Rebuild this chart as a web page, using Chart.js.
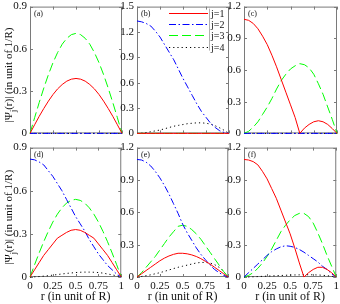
<!DOCTYPE html>
<html>
<head>
<meta charset="utf-8">
<script src="https://cdn.jsdelivr.net/npm/chart.js@4.4.1/dist/chart.umd.min.js"></script>
<style>
  html, body { margin: 0; padding: 0; background: #fff; }
  #wrap { position: relative; width: 340px; height: 304px; overflow: hidden; }
  #wrap canvas { position: absolute; }
</style>
</head>
<body>
<div id="wrap"></div>
<script>
// radial grid r (in unit of R)
const r = [0, 0.05, 0.1, 0.15, 0.2, 0.25, 0.3, 0.35, 0.4, 0.45, 0.5, 0.55, 0.6, 0.65, 0.7, 0.75, 0.8, 0.85, 0.9, 0.95, 1];
const xTicks = [0, 0.25, 0.5, 0.75, 1];
const yTicks09 = [0, 0.3, 0.6, 0.9];
const yTicks12 = [0, 0.3, 0.6, 0.9, 1.2];
const yTicks15 = [0, 0.3, 0.6, 0.9, 1.2, 1.5];
const seriesNames = ['j=1', 'j=2', 'j=3', 'j=4'];
const panelNames = ['(a)', '(b)', '(c)', '(d)', '(e)', '(f)'];

// (a)
const a1 = [0, .061, .121, .177, .229, .276, .316, .347, .371, .385, .39, .385, .371, .347, .316, .276, .229, .177, .121, .061, 0];
const a2 = [0, 0, 0, 0, 0, 0, 0, 0, 0, 0, 0, 0, 0, 0, 0, 0, 0, 0, 0, 0, 0];
const a3 = [0, .111, .219, .322, .417, .502, .574, .633, .675, .701, .71, .701, .675, .633, .574, .502, .417, .322, .219, .111, 0];
const a4 = [0, 0, 0, 0, 0, 0, 0, 0, 0, 0, 0, 0, 0, 0, 0, 0, 0, 0, 0, 0, 0];
// (b)
const b1 = [0, 0, 0, 0, 0, 0, 0, 0, 0, 0, 0, 0, 0, 0, 0, 0, 0, 0, 0, 0, 0];
const b2 = [1.33, 1.32, 1.30, 1.27, 1.21, 1.14, 1.05, .96, .87, .76, .65, .55, .45, .35, .26, .19, .12, .07, .03, .01, 0];
const b3 = [0, 0, 0, 0, 0, 0, 0, 0, 0, 0, 0, 0, 0, 0, 0, 0, 0, 0, 0, 0, 0];
const b4 = [0, .003, .01, .02, .03, .04, .055, .07, .085, .095, .105, .115, .12, .125, .125, .12, .11, .09, .065, .035, 0];
// (c)
const c1 = [1.08, 1.07, 1.04, .99, .92, .84, .74, .63, .51, .39, .27, .15, 0, .05, .085, .11, .12, .11, .085, .045, 0];
const c2 = [0, 0, 0, 0, 0, 0, 0, 0, 0, 0, 0, 0, 0, 0, 0, 0, 0, 0, 0, 0, 0];
const c3 = [0, .02, .06, .11, .18, .25, .33, .42, .50, .56, .61, .64, .66, .65, .62, .56, .47, .37, .25, .13, 0];
const c4 = [0, 0, 0, 0, 0, 0, 0, 0, 0, 0, 0, 0, 0, 0, 0, 0, 0, 0, 0, 0, 0];
// (d)
const d1 = [0, .05, .10, .15, .19, .23, .27, .29, .31, .325, .33, .325, .31, .29, .27, .23, .19, .15, .10, .05, 0];
const d2 = [.82, .815, .80, .78, .74, .70, .65, .60, .54, .48, .42, .37, .32, .26, .21, .16, .12, .08, .05, .02, 0];
const d3 = [0, .085, .167, .245, .317, .382, .437, .481, .514, .533, .54, .533, .514, .481, .437, .382, .317, .245, .167, .085, 0];
const d4 = [0, .001, .003, .006, .009, .013, .017, .021, .025, .028, .031, .033, .034, .034, .033, .031, .027, .021, .015, .008, 0];
// (e)
const e1 = [0, .03, .06, .09, .12, .15, .175, .195, .21, .22, .22, .215, .205, .19, .17, .145, .12, .09, .06, .03, 0];
const e2 = [1.09, 1.085, 1.065, 1.03, .98, .92, .85, .77, .68, .59, .49, .41, .34, .27, .21, .16, .11, .07, .04, .015, 0];
const e3 = [0, .04, .09, .14, .19, .25, .31, .37, .42, .47, .48, .47, .44, .40, .35, .29, .23, .17, .11, .05, 0];
const e4 = [0, .005, .012, .02, .03, .04, .052, .065, .078, .09, .10, .11, .12, .13, .135, .135, .13, .115, .09, .05, 0];
// (f)
const f1 = [1.09, 1.085, 1.07, 1.04, .98, .91, .82, .73, .62, .51, .40, .27, .13, 0, .04, .07, .09, .09, .07, .04, 0];
const f2 = [0, .04, .08, .12, .16, .20, .235, .26, .28, .29, .285, .275, .255, .23, .20, .17, .14, .10, .07, .03, 0];
const f3 = [0, .015, .04, .08, .13, .19, .26, .34, .42, .48, .53, .57, .59, .59, .56, .50, .41, .31, .20, .10, 0];
const f4 = [0, 0, .002, .004, .006, .008, .01, .012, .014, .016, .018, .019, .02, .021, .021, .02, .019, .016, .012, .007, 0];

const styles = [
  { color: 'rgb(255,0,0)', dash: [] },
  { color: 'rgb(0,0,255)', dash: [7, 2.5, 1.5, 2.5] },
  { color: 'rgb(0,255,0)', dash: [9, 4] },
  { color: 'rgb(0,0,0)', dash: [1.2, 3] }
];

const SERIF = '"Liberation Serif", "Times New Roman", serif';
const cols = [{ l: 30, r: 122 }, { l: 137, r: 229 }, { l: 244, r: 337 }];
const rows = [{ t: 5, b: 135 }, { t: 146, b: 277 }];

const panels = [
  { row: 0, col: 0, ymax: 0.9, yt: yTicks09, data: [a1, a2, a3, a4] },
  { row: 0, col: 1, ymax: 1.5, yt: yTicks15, data: [b1, b2, b3, b4], legend: true },
  { row: 0, col: 2, ymax: 1.2, yt: yTicks12, data: [c1, c2, c3, c4] },
  { row: 1, col: 0, ymax: 0.9, yt: yTicks09, data: [d1, d2, d3, d4] },
  { row: 1, col: 1, ymax: 1.2, yt: yTicks12, data: [e1, e2, e3, e4] },
  { row: 1, col: 2, ymax: 1.2, yt: yTicks12, data: [f1, f2, f3, f4] }
];

// frame + inward ticks on all four sides, panel tag (under the curves)
const framePlugin = {
  id: 'frame',
  beforeDatasetsDraw(chart, args, opts) {
    const { ctx, chartArea: a, scales } = chart;
    ctx.save();
    ctx.strokeStyle = '#7a7a7a';
    ctx.lineWidth = 1;
    ctx.strokeRect(a.left + 0.5, a.top + 0.5, a.right - a.left - 1, a.bottom - a.top - 1);
    ctx.beginPath();
    scales.x.ticks.forEach(t => {
      const px = Math.round(scales.x.getPixelForValue(t.value)) + 0.5;
      ctx.moveTo(px, a.bottom); ctx.lineTo(px, a.bottom - 3);
      ctx.moveTo(px, a.top); ctx.lineTo(px, a.top + 3);
    });
    scales.y.ticks.forEach(t => {
      const py = Math.round(scales.y.getPixelForValue(t.value)) + 0.5;
      ctx.moveTo(a.left, py); ctx.lineTo(a.left + 3, py);
      ctx.moveTo(a.right, py); ctx.lineTo(a.right - 3, py);
    });
    ctx.stroke();
    ctx.fillStyle = '#111';
    ctx.font = '8px ' + SERIF;
    ctx.textBaseline = 'middle';
    ctx.textAlign = 'left';
    ctx.fillText(opts.tag, a.left + 4, a.top + 7);
    ctx.restore();
  }
};

// rotated y title with subscript j
const yTitlePlugin = {
  id: 'ytitle',
  afterDraw(chart, args, opts) {
    if (!opts.show) return;
    const { ctx, chartArea: a } = chart;
    const p1 = '|\u03A8', sub = 'j', p2 = '(r)| (in unit of 1/R)';
    ctx.save();
    ctx.fillStyle = '#111';
    ctx.font = '11px ' + SERIF;
    const w1 = ctx.measureText(p1).width, w2 = ctx.measureText(p2).width;
    ctx.font = '8px ' + SERIF;
    const ws = ctx.measureText(sub).width;
    const total = w1 + ws + w2;
    ctx.translate(9, (a.top + a.bottom) / 2 + 5);
    ctx.rotate(-Math.PI / 2);
    ctx.textBaseline = 'middle';
    ctx.textAlign = 'left';
    let x = -total / 2;
    ctx.font = '11px ' + SERIF;
    ctx.fillText(p1, x, 0); x += w1;
    ctx.font = '8px ' + SERIF;
    ctx.fillText(sub, x, 5); x += ws;
    ctx.font = '11px ' + SERIF;
    ctx.fillText(p2, x, 0);
    ctx.restore();
  }
};

const legendPlugin = {
  id: 'innerLegend',
  afterDatasetsDraw(chart, args, opts) {
    if (!opts.show) return;
    const { ctx, chartArea: a } = chart;
    ctx.save();
    ctx.strokeStyle = '#b0b0b0';
    ctx.lineWidth = 1;
    ctx.beginPath();
    ctx.moveTo(a.left + 72.5, a.top + 2);
    ctx.lineTo(a.left + 72.5, a.top + 44);
    ctx.stroke();
    chart.data.datasets.forEach((ds, i) => {
      const y = Math.round(a.top + 6 + i * 11.3) + 0.5;
      ctx.strokeStyle = ds.borderColor;
      ctx.setLineDash(ds.borderDash);
      ctx.beginPath();
      ctx.moveTo(a.left + 32, y);
      ctx.lineTo(a.left + 71, y);
      ctx.stroke();
      ctx.setLineDash([]);
      ctx.fillStyle = '#111';
      ctx.font = '10px ' + SERIF;
      ctx.textBaseline = 'middle';
      ctx.fillText(ds.label, a.left + 74, y + 0.5);
    });
    ctx.restore();
  }
};

const wrap = document.getElementById('wrap');

panels.forEach((p, k) => {
  const col = cols[p.col], row = rows[p.row];
  const yW = p.col === 0 ? col.l : 22;
  const padT = 8, padR = 5;
  const xH = p.row === 0 ? 8 : 304 - row.b;
  const cv = document.createElement('canvas');
  const w = yW + (col.r - col.l) + padR;
  const h = padT + (row.b - row.t) + xH;
  cv.width = w; cv.height = h;
  cv.style.left = (col.l - yW) + 'px';
  cv.style.top = (row.t - padT) + 'px';
  cv.style.width = w + 'px'; cv.style.height = h + 'px';
  wrap.appendChild(cv);

  const bottomRow = p.row === 1;
  new Chart(cv, {
    type: 'line',
    data: {
      datasets: p.data.map((vals, i) => ({
        label: seriesNames[i],
        data: r.map((x, n) => ({ x: x, y: vals[n] })),
        borderColor: styles[i].color,
        borderDash: styles[i].dash,
        borderWidth: 1,
        pointRadius: 0,
        tension: 0,
        fill: false,
        clip: false
      }))
    },
    plugins: [framePlugin, yTitlePlugin, legendPlugin],
    options: {
      animation: false,
      responsive: false,
      devicePixelRatio: 1,
      layout: { padding: { top: padT, right: padR, left: 0, bottom: 0 } },
      plugins: {
        legend: { display: false },
        tooltip: { enabled: false },
        frame: { tag: panelNames[k] },
        ytitle: { show: p.col === 0 },
        innerLegend: { show: !!p.legend }
      },
      scales: {
        x: {
          type: 'linear',
          min: 0, max: 1,
          afterBuildTicks: s => { s.ticks = xTicks.map(v => ({ value: v })); },
          afterFit: s => { s.height = xH; },
          grid: { display: false, drawTicks: false },
          border: { display: false },
          ticks: {
            display: bottomRow,
            padding: 3,
            maxRotation: 0,
            autoSkip: false,
            color: '#111',
            font: { family: SERIF, size: 11 },
            callback: v => String(Math.round(v * 100) / 100)
          },
          title: {
            display: bottomRow,
            text: 'r (in unit of R)',
            color: '#111',
            padding: { top: 0, bottom: 0 },
            font: { family: SERIF, size: 12 }
          }
        },
        y: {
          min: 0, max: p.ymax,
          afterBuildTicks: s => { s.ticks = p.yt.map(v => ({ value: v })); },
          afterFit: s => { s.width = yW; },
          grid: { display: false, drawTicks: false },
          border: { display: false },
          ticks: {
            padding: 3,
            autoSkip: false,
            color: '#111',
            font: { family: SERIF, size: 11 },
            callback: v => String(Math.round(v * 100) / 100)
          }
        }
      }
    }
  });
});
</script>
</body>
</html>
